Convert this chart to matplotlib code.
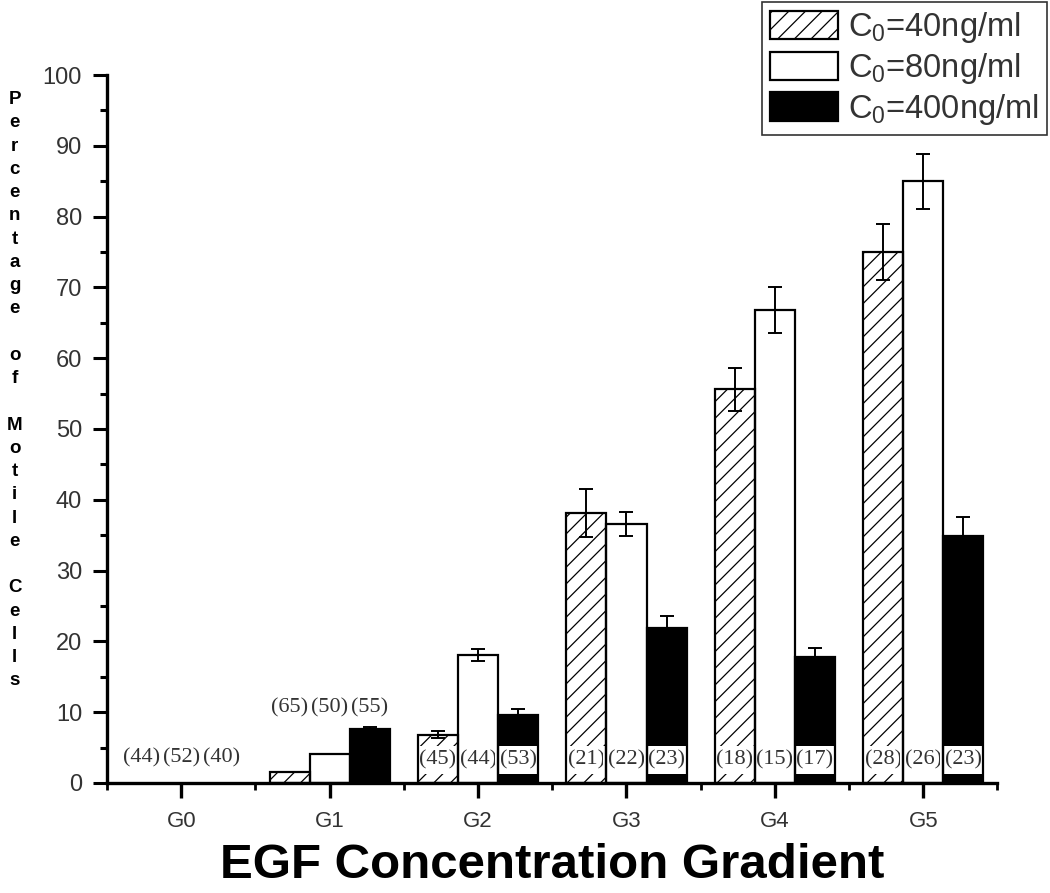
import matplotlib
matplotlib.use("Agg")
import matplotlib.pyplot as plt
import numpy as np
from matplotlib.ticker import MultipleLocator, FixedLocator
from matplotlib.patches import Patch

plt.rcParams["font.family"] = ["Liberation Sans", "DejaVu Sans"]
plt.rcParams["mathtext.fontset"] = "custom"
plt.rcParams["mathtext.rm"] = "Liberation Sans"
plt.rcParams["hatch.color"] = "#4a4a4a"
plt.rcParams["hatch.linewidth"] = 0.9

groups = ["G0", "G1", "G2", "G3", "G4", "G5"]
series_names = [r"C$_0$=40ng/ml", r"C$_0$=80ng/ml", r"C$_0$=400ng/ml"]

c40 = [0, 1.6, 6.8, 38.1, 55.6, 75.0]
c40_err = [0, 0, 0.5, 3.4, 3.0, 3.9]
c80 = [0, 4.1, 18.1, 36.6, 66.8, 85.0]
c80_err = [0, 0, 0.8, 1.7, 3.3, 3.9]
c400 = [0, 7.6, 9.6, 21.9, 17.8, 34.9]
c400_err = [0, 0.3, 0.8, 1.7, 1.3, 2.6]

n40 = [44, 65, 45, 21, 18, 28]
n80 = [52, 50, 44, 22, 15, 26]
n400 = [40, 55, 53, 23, 17, 23]

values = [c40, c80, c400]
errors = [c40_err, c80_err, c400_err]
counts = [n40, n80, n400]
fills = ["white", "white", "black"]
hatches = ["//", "", ""]

fig = plt.figure(figsize=(10.5, 8.93), dpi=100)
ax = fig.add_axes([0.102, 0.1232, 0.848, 0.7928])

x = np.arange(len(groups))
width = 0.27
offsets = [-width, 0, width]
group_max = np.max(np.array(values), axis=0)

for vals, errs, cnts, fc, hatch, off in zip(values, errors, counts, fills, hatches, offsets):
    xs = x + off
    vals = np.array(vals, dtype=float)
    errs = np.array(errs, dtype=float)
    ax.bar(xs, vals, width, color=fc, hatch=hatch, edgecolor="black", linewidth=0, zorder=2)
    # cell counts: above the group when bars are low, else inside the bar near the base
    for xi, gm, n in zip(xs, group_max, cnts):
        if gm < 8:
            yl = 3.5 if gm == 0 else gm + 3.0
            ax.text(xi, yl, f"({n})", ha="center", va="center", family="Liberation Serif",
                    fontsize=16, color="#333333", zorder=3)
        else:
            ax.text(xi, 3.3, f"({n})", ha="center", va="center", family="Liberation Serif",
                    fontsize=16, color="#333333", zorder=3,
                    bbox=dict(boxstyle="square,pad=0.2", fc="white", ec="none"))
    mask = vals > 0
    ax.bar(xs[mask], vals[mask], width, fill=False, edgecolor="black", linewidth=1.6, zorder=4)
    emask = errs > 0
    ax.errorbar(xs[emask], vals[emask], yerr=errs[emask], fmt="none", ecolor="black",
                elinewidth=1.4, capsize=5, capthick=1.4, zorder=5)

ax.set_xlim(-0.5, 5.5)
ax.set_ylim(0, 100)
ax.set_xticks(x)
ax.set_xticklabels(groups)
ax.xaxis.set_minor_locator(FixedLocator(np.arange(-0.5, 6.0, 1.0)))
ax.yaxis.set_major_locator(MultipleLocator(10))
ax.yaxis.set_minor_locator(MultipleLocator(5))

for s in ["top", "right"]:
    ax.spines[s].set_visible(False)
for s in ["left", "bottom"]:
    ax.spines[s].set_linewidth(2.4)

ax.tick_params(axis="y", which="major", length=10, width=2.2, labelsize=17,
               labelcolor="#333333", pad=8)
ax.tick_params(axis="y", which="minor", length=5, width=2.2)
ax.tick_params(axis="x", which="major", length=11, width=2.4, labelsize=16,
               labelcolor="#333333", pad=9)
ax.tick_params(axis="x", which="minor", length=5, width=2.0)

ax.set_xlabel("EGF Concentration Gradient", fontsize=35.5, fontweight="bold", labelpad=8)

ylabel_words = ["Percentage", "of", "Motile", "Cells"]
stacked = "\n\n".join("\n".join(w) for w in ylabel_words)
fig.text(0.014, 0.563, stacked, ha="center", va="center", fontsize=13.5,
         fontweight="bold", linespacing=1.48)

handles = [
    Patch(facecolor="white", edgecolor="black", hatch="//", linewidth=1.6),
    Patch(facecolor="white", edgecolor="black", linewidth=1.6),
    Patch(facecolor="black", edgecolor="black", linewidth=1.6),
]
leg = fig.legend(handles, series_names, loc="upper right", bbox_to_anchor=(0.997, 0.998),
                 borderaxespad=0, fontsize=23.5, frameon=True, fancybox=False,
                 edgecolor="black", handlelength=2.1, handleheight=0.95,
                 handletextpad=0.3, labelspacing=0.18, borderpad=0.25)
leg.get_frame().set_linewidth(1.2)
for t in leg.get_texts():
    t.set_color("#333333")

fig.savefig("out.png", dpi=100)
